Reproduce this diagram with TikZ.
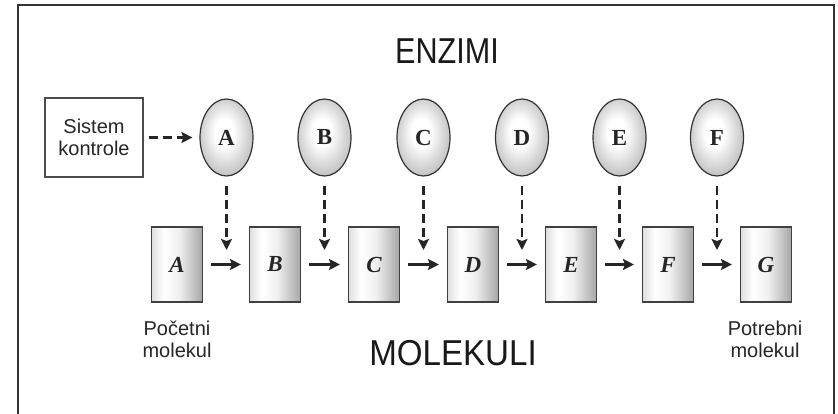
\documentclass[tikz,border=0pt]{standalone}
\usepackage{fontspec}
\setmainfont{Liberation Serif}
\setsansfont{Liberation Sans}
\usetikzlibrary{shapes.geometric,arrows.meta}
\pgfdeclarehorizontalshading{molshade}{100bp}{color(0bp)=(gray!25); color(25bp)=(gray!25); color(37bp)=(white); color(52bp)=(gray!12); color(72bp)=(gray!62); color(75bp)=(gray!70); color(100bp)=(gray!70)}
\pgfdeclareradialshading{enzshade}{\pgfpoint{-3bp}{4bp}}{color(0bp)=(white); color(9bp)=(white); color(22bp)=(gray!35); color(26bp)=(gray!45); color(50bp)=(gray!45)}
\tikzset{
  enz/.style={ellipse, draw=black!80, line width=1.2pt, minimum width=53pt, minimum height=77pt, inner sep=0pt,
    shading=enzshade, font=\bfseries\fontsize{23}{23}\selectfont, text=black!85},
  mol/.style={rectangle, draw=black!75, line width=1.1pt, minimum width=51pt, minimum height=75pt, inner sep=0pt,
    shading=molshade, font=\bfseries\itshape\fontsize{23}{23}\selectfont, text=black!85},
  flow/.style={-{Stealth[length=11pt,width=11pt,inset=2pt]}, line width=2.4pt, black!85},
  dflow/.style={flow, dash pattern=on 9pt off 5pt},
  lbl/.style={font=\sffamily\fontsize{20}{22}\selectfont, align=center, text=black!85},
  title/.style={font=\sffamily\fontsize{36}{36}\selectfont, text=black!90}
}
\begin{document}
\begin{tikzpicture}[x=1pt,y=-1pt]
\useasboundingbox (0,0) rectangle (838,414);
\fill[white] (0,0) rectangle (838,414);
\draw[line width=2.5pt, black!80] (18,414) -- (18,5) -- (834,5) -- (834,414);

\node[title, xscale=0.85] (enzimi) at (447,51) {ENZIMI};
\node[title, xscale=0.92] (molekuli) at (453,353) {MOLEKULI};

\node[draw=black!70, line width=1.2pt, minimum width=98pt, minimum height=79pt, inner sep=0pt, lbl] (sis) at (94,137.5) {Sistem\\kontrole};

\foreach \n/\x in {A/177,B/275,C/374,D/473,E/571,F/668,G/766}{
  \node[mol] (m\n) at (\x,264.5) {\n};
}
\foreach \n/\x in {A/226.5,B/324.5,C/423.5,D/522,E/619.5,F/717}{
  \node[enz] (e\n) at (\x,137.5) {\n};
  \coordinate (t\n) at (\x,250);
  \draw[dflow, shorten <=9pt] (e\n) -- (t\n);
}
\foreach \a/\b in {A/B,B/C,C/D,D/E,E/F,F/G}{
  \draw[flow, shorten <=8pt, shorten >=8pt] (m\a) -- (m\b);
}
\draw[dflow, shorten <=5pt, shorten >=7pt] (sis) -- (eA);

\node[lbl] (poc) at (177,339) {Početni\\molekul};
\node[lbl] (pot) at (765,339) {Potrebni\\molekul};
\end{tikzpicture}
\end{document}
